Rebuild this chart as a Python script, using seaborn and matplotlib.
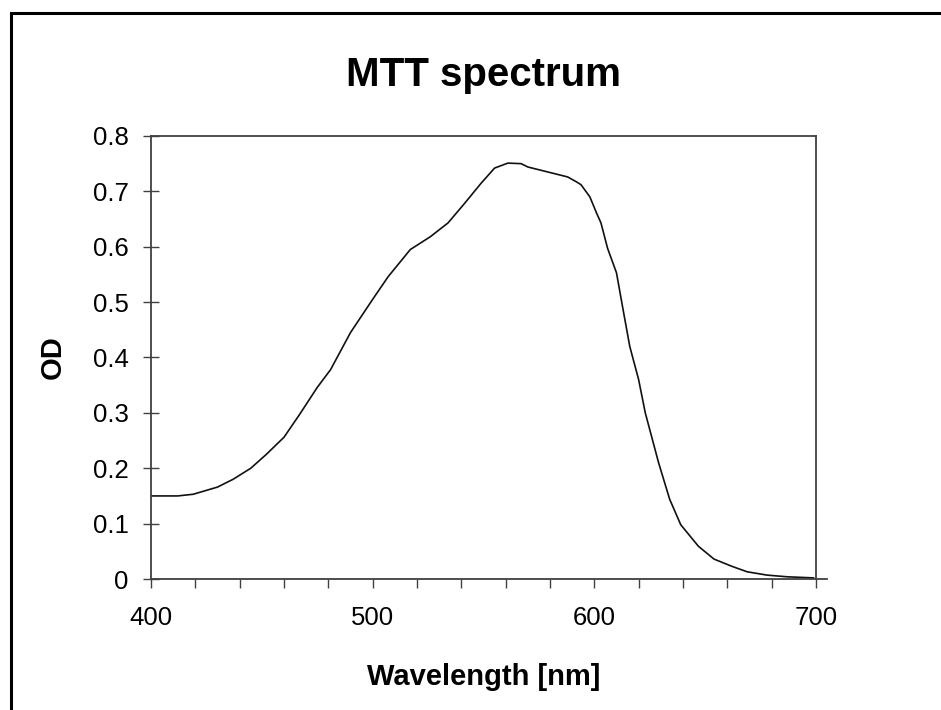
import matplotlib
matplotlib.use('Agg')
import matplotlib.pyplot as plt
import matplotlib.ticker as mticker
from matplotlib.patches import Rectangle
import seaborn as sns

sns.set_style('white')
plt.rcParams['font.family'] = ['Liberation Sans', 'DejaVu Sans']
plt.rcParams['text.color'] = 'black'
plt.rcParams['axes.labelcolor'] = 'black'
plt.rcParams['xtick.color'] = 'black'
plt.rcParams['ytick.color'] = 'black'

# values
wavelength = [400, 412, 419, 430, 437, 445, 452, 460, 467, 475, 481, 490, 500,
              507, 517, 526, 534, 541, 549, 555, 561, 567, 570, 579, 588, 592,
              594, 598, 601, 603, 606, 610, 613, 616, 620, 623, 626, 629, 634,
              639, 647, 654, 662, 669, 678, 687, 699]
od = [0.150, 0.150, 0.153, 0.166, 0.180, 0.200, 0.225, 0.256, 0.297, 0.346,
      0.378, 0.445, 0.505, 0.546, 0.595, 0.618, 0.643, 0.676, 0.715, 0.742,
      0.751, 0.750, 0.744, 0.735, 0.726, 0.717, 0.712, 0.690, 0.661, 0.643,
      0.597, 0.553, 0.486, 0.420, 0.360, 0.300, 0.255, 0.210, 0.144, 0.098,
      0.059, 0.036, 0.023, 0.013, 0.007, 0.004, 0.002]

x_major = [400, 500, 600, 700]
y_major = [0, 0.1, 0.2, 0.3, 0.4, 0.5, 0.6, 0.7, 0.8]

fig = plt.figure(figsize=(9.41, 7.10), dpi=100)
ax = fig.add_axes([0.1605, 0.1845, 0.7066, 0.624])

sns.lineplot(x=wavelength, y=od, color='#111111', linewidth=1.2, ax=ax)

ax.set_xlim(400, 700)
ax.set_ylim(0, 0.8)
ax.set_xticks(x_major)
ax.xaxis.set_minor_locator(mticker.MultipleLocator(20))
ax.set_yticks(y_major)
ax.yaxis.set_major_formatter(mticker.FuncFormatter(lambda v, p: '0' if v == 0 else f'{v:.1f}'))

ax.tick_params(axis='x', which='both', direction='out', length=6.5, width=1,
               color='#404040', bottom=True, labelsize=18.5, pad=13)
ax.tick_params(axis='y', which='major', direction='inout', length=12, width=1,
               color='#404040', left=True, labelsize=18.5, pad=10)

for side in ['left', 'right', 'top', 'bottom']:
    ax.spines[side].set_color('#404040')
    ax.spines[side].set_linewidth(1.3)
ax.spines['bottom'].set_bounds(400, 705)

ax.set_title('MTT spectrum', fontsize=29, fontweight='bold', pad=36)
ax.set_xlabel('Wavelength [nm]', fontsize=21, fontweight='bold', labelpad=24)
ax.set_ylabel('OD', fontsize=21, fontweight='bold', labelpad=19)

# outer chart frame (only left and top edges visible in the crop)
fig.patches.append(Rectangle((11 / 941, -0.1), 1.2, 1 - 13 / 710 + 0.1,
                             transform=fig.transFigure, fill=False,
                             edgecolor='black', linewidth=2.2))

fig.savefig('out.png', dpi=100)
